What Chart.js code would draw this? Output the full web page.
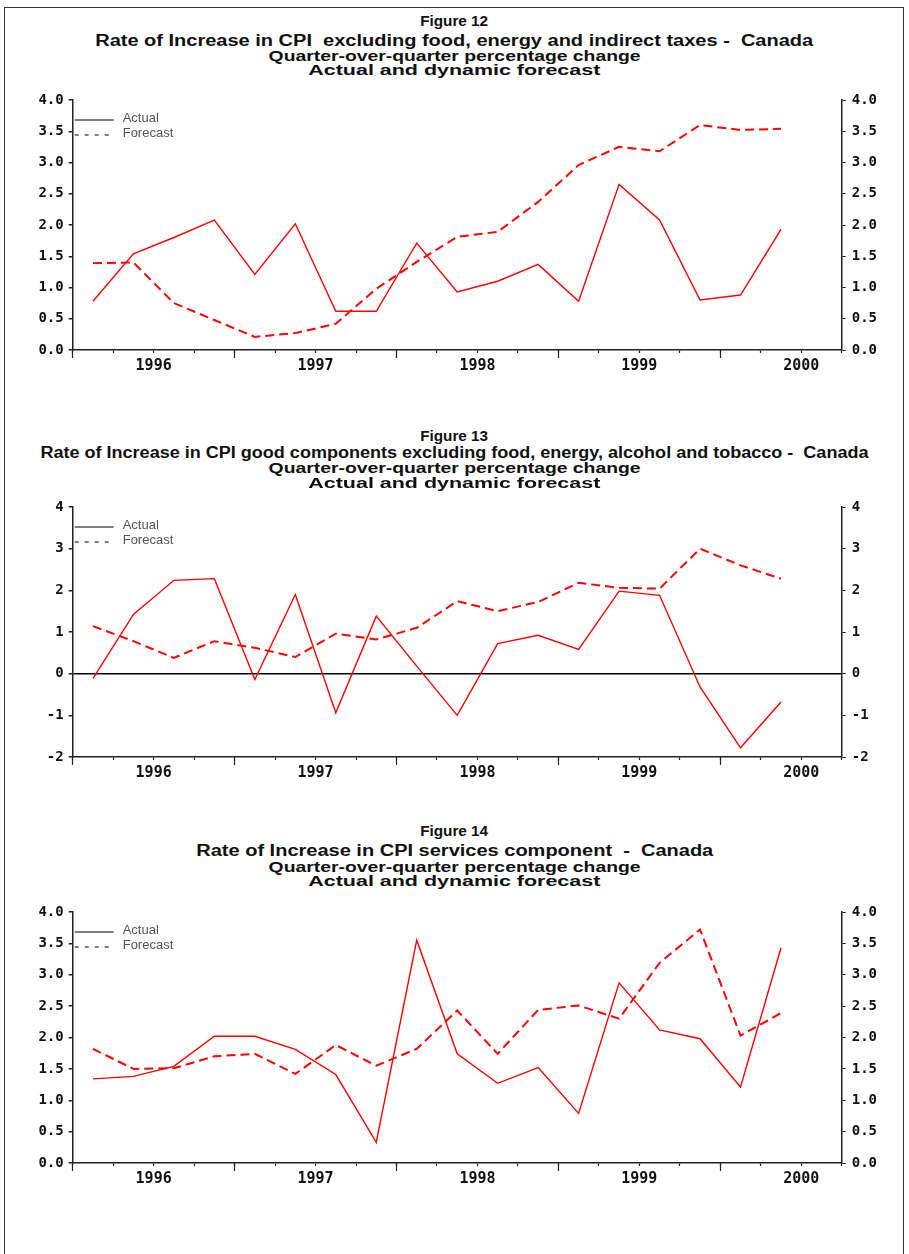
<!DOCTYPE html>
<html>
<head>
<meta charset="utf-8">
<script src="https://cdn.jsdelivr.net/npm/chart.js@4.4.1/dist/chart.umd.min.js"></script>
<style>
html, body { margin:0; padding:0; background:#fff; overflow:hidden; }
#page { position:relative; width:909px; height:1254px; }
#frame { position:absolute; left:4px; top:7px; width:900px; height:1262px; border:1.5px solid #333; box-sizing:border-box; }
.t { position:absolute; left:0; width:909px; text-align:center; font-family:"Liberation Sans", Arial, sans-serif; font-weight:bold; color:#111; white-space:pre; line-height:1; z-index:2; }
.t span { display:inline-block; transform-origin:50% 50%; }
canvas { position:absolute; left:0; z-index:1; }
</style>
</head>
<body>
<div id="page">
  <div id="frame"></div>
</div>
<script>
// quarters on the time axis, one point per quarter
const quarters = ['1996Q1','1996Q2','1996Q3','1996Q4','1997Q1','1997Q2','1997Q3','1997Q4',
  '1998Q1','1998Q2','1998Q3','1998Q4','1999Q1','1999Q2','1999Q3','1999Q4','2000Q1','2000Q2'];
const years = ['1996','1997','1998','1999','2000'];

// Figure 12 - CPI excluding food, energy and indirect taxes
const fig12Actual   = [0.78,1.54,1.80,2.08,1.21,2.02,0.62,0.62,1.71,0.93,1.10,1.37,0.78,2.65,2.08,0.80,0.88,1.93];
const fig12Forecast = [1.39,1.40,0.75,0.48,0.21,0.27,0.42,0.98,1.41,1.81,1.89,2.37,2.96,3.25,3.18,3.60,3.52,3.54];

// Figure 13 - CPI goods excluding food, energy, alcohol and tobacco
const fig13Actual   = [-0.12,1.42,2.24,2.28,-0.14,1.90,-0.94,1.38,0.18,-1.00,0.72,0.92,0.58,1.98,1.88,-0.32,-1.78,-0.68];
const fig13Forecast = [1.14,0.78,0.38,0.78,0.62,0.40,0.96,0.82,1.10,1.74,1.50,1.72,2.18,2.06,2.04,3.00,2.60,2.28];

// Figure 14 - CPI services component
const fig14Actual   = [1.34,1.38,1.54,2.02,2.02,1.81,1.41,0.33,3.55,1.74,1.27,1.52,0.79,2.87,2.12,1.98,1.21,3.43];
const fig14Forecast = [1.82,1.50,1.51,1.70,1.74,1.42,1.88,1.55,1.82,2.43,1.74,2.44,2.51,2.30,3.19,3.72,2.03,2.39];

const figNames = ['Figure 12','Figure 13','Figure 14'];
const figHeads = [
  'Rate of Increase in CPI  excluding food, energy and indirect taxes -  Canada',
  'Rate of Increase in CPI good components excluding food, energy, alcohol and tobacco -  Canada',
  'Rate of Increase in CPI services component  -  Canada'
];
const subLines = ['Quarter-over-quarter percentage change', 'Actual and dynamic forecast'];
const seriesNames = ['Actual', 'Forecast'];

const page = document.getElementById('page');

// title rows: y centre, font size, width to stretch to
function addTitle(text, y, size, width) {
  const d = document.createElement('div');
  d.className = 't';
  d.style.top = (y - size * 0.55) + 'px';
  d.style.fontSize = size + 'px';
  const s = document.createElement('span');
  s.textContent = text;
  d.appendChild(s);
  page.appendChild(d);
  const w = s.getBoundingClientRect().width;
  s.style.transform = 'scaleX(' + (width / w) + ')';
}

const titleY = [[22, 42, 57, 71], [437, 454, 469, 484], [832, 852, 868, 882]];
const headWidths = [718, 828, 517];
for (let i = 0; i < 3; i++) {
  addTitle(figNames[i], titleY[i][0], 14, 68);
  addTitle(figHeads[i], titleY[i][1], 16, headWidths[i]);
  addTitle(subLines[0], titleY[i][2], 14, 372);
  addTitle(subLines[1], titleY[i][3], 14, 292);
}

// legend drawn inside the plot, top left
const legendInside = {
  id: 'legendInside',
  afterDraw(chart) {
    const ctx = chart.ctx, a = chart.chartArea;
    ctx.save();
    chart.data.datasets.forEach((ds, i) => {
      const y = a.top + 20 + i * 15;
      ctx.strokeStyle = '#000';
      ctx.lineWidth = 1.2;
      ctx.setLineDash(i === 0 ? [] : [4, 6]);
      ctx.beginPath();
      ctx.moveTo(a.left + 2, y);
      ctx.lineTo(a.left + 41, y);
      ctx.stroke();
      ctx.fillStyle = '#555';
      ctx.font = '13px "Liberation Sans", Arial, sans-serif';
      ctx.textBaseline = 'middle';
      ctx.fillText(ds.label, a.left + 50, y - 1.5);
    });
    ctx.restore();
  }
};

const tickFont = { family: '"DejaVu Sans Mono", monospace', size: 14, weight: 'bold' };
const yearFont = { family: '"DejaVu Sans Mono", monospace', size: 15, weight: 'bold' };

function points(values) {
  return quarters.map((q, i) => ({ x: i + 0.5, y: values[i] }));
}

function makeChart(plotTop, plotBottom, actual, forecast, yMin, yMax, step, digits, zeroLine) {
  const canvas = document.createElement('canvas');
  const h = Math.round(plotBottom - plotTop) + 50;
  canvas.width = 909;
  canvas.height = h;
  canvas.style.top = (plotTop - 20) + 'px';
  page.appendChild(canvas);

  const yTicks = [];
  for (let v = yMin; v <= yMax + 1e-9; v += step) yTicks.push({ value: +v.toFixed(2) });
  const allQuarters = [];
  for (let q = 0; q <= 19; q++) allQuarters.push({ value: q });

  const yCommon = {
    type: 'linear', min: yMin, max: yMax,
    afterBuildTicks: s => { s.ticks = yTicks.map(t => ({ value: t.value })); },
    ticks: { font: tickFont, color: '#111', callback: v => v.toFixed(digits) },
    border: { color: '#222', width: 1.5 }
  };

  new Chart(canvas, {
    type: 'line',
    data: {
      datasets: [
        { label: seriesNames[0], data: points(actual), borderColor: '#ff0000', borderWidth: 1.4,
          pointRadius: 0, tension: 0, fill: false },
        { label: seriesNames[1], data: points(forecast), borderColor: '#ff0000', borderWidth: 2,
          borderDash: [9, 5], pointRadius: 0, tension: 0, fill: false }
      ]
    },
    options: {
      responsive: false,
      animation: false,
      layout: { padding: { top: 20, left: 0, right: 0, bottom: 0 } },
      plugins: { legend: { display: false }, tooltip: { enabled: false } },
      scales: {
        x: {
          type: 'linear', min: 0, max: 19, position: 'bottom',
          afterFit: s => { s.height = 30; },
          afterBuildTicks: s => { s.ticks = allQuarters.map(t => ({ value: t.value })); },
          ticks: {
            autoSkip: false, maxRotation: 0, padding: 4, font: yearFont, color: '#111',
            callback: v => (v % 4 === 2 ? years[(v - 2) / 4] : '')
          },
          grid: { drawOnChartArea: false, tickLength: 3, tickColor: '#222', tickWidth: 1.2 },
          border: { color: '#222', width: 1.5 }
        },
        xYear: {
          type: 'linear', min: 0, max: 19, position: { y: yMin },
          afterBuildTicks: s => { s.ticks = [0, 4, 8, 12, 16].map(v => ({ value: v })); },
          ticks: { display: false, autoSkip: false },
          grid: { drawOnChartArea: false, tickLength: 8, tickColor: '#222', tickWidth: 1.2 },
          border: { display: false }
        },
        y: Object.assign({}, yCommon, {
          position: 'left',
          afterFit: s => { s.width = 72.7; },
          ticks: Object.assign({}, yCommon.ticks, { padding: 5 }),
          grid: {
            drawOnChartArea: zeroLine, tickLength: 4, tickColor: '#222', lineWidth: 1.5,
            color: c => (c.tick && c.tick.value === 0 ? '#000' : 'rgba(0,0,0,0)')
          }
        }),
        y2: Object.assign({}, yCommon, {
          position: 'right',
          afterFit: s => { s.width = 909 - 841.7; },
          ticks: Object.assign({}, yCommon.ticks, { padding: 6 }),
          grid: { drawOnChartArea: false, tickLength: 4, tickColor: '#222' }
        })
      }
    },
    plugins: [legendInside]
  });
}

makeChart(100, 350, fig12Actual, fig12Forecast, 0, 4, 0.5, 1, false);
makeChart(506.7, 756.7, fig13Actual, fig13Forecast, -2, 4, 1, 0, true);
makeChart(912.3, 1163.3, fig14Actual, fig14Forecast, 0, 4, 0.5, 1, false);
</script>
</body>
</html>
